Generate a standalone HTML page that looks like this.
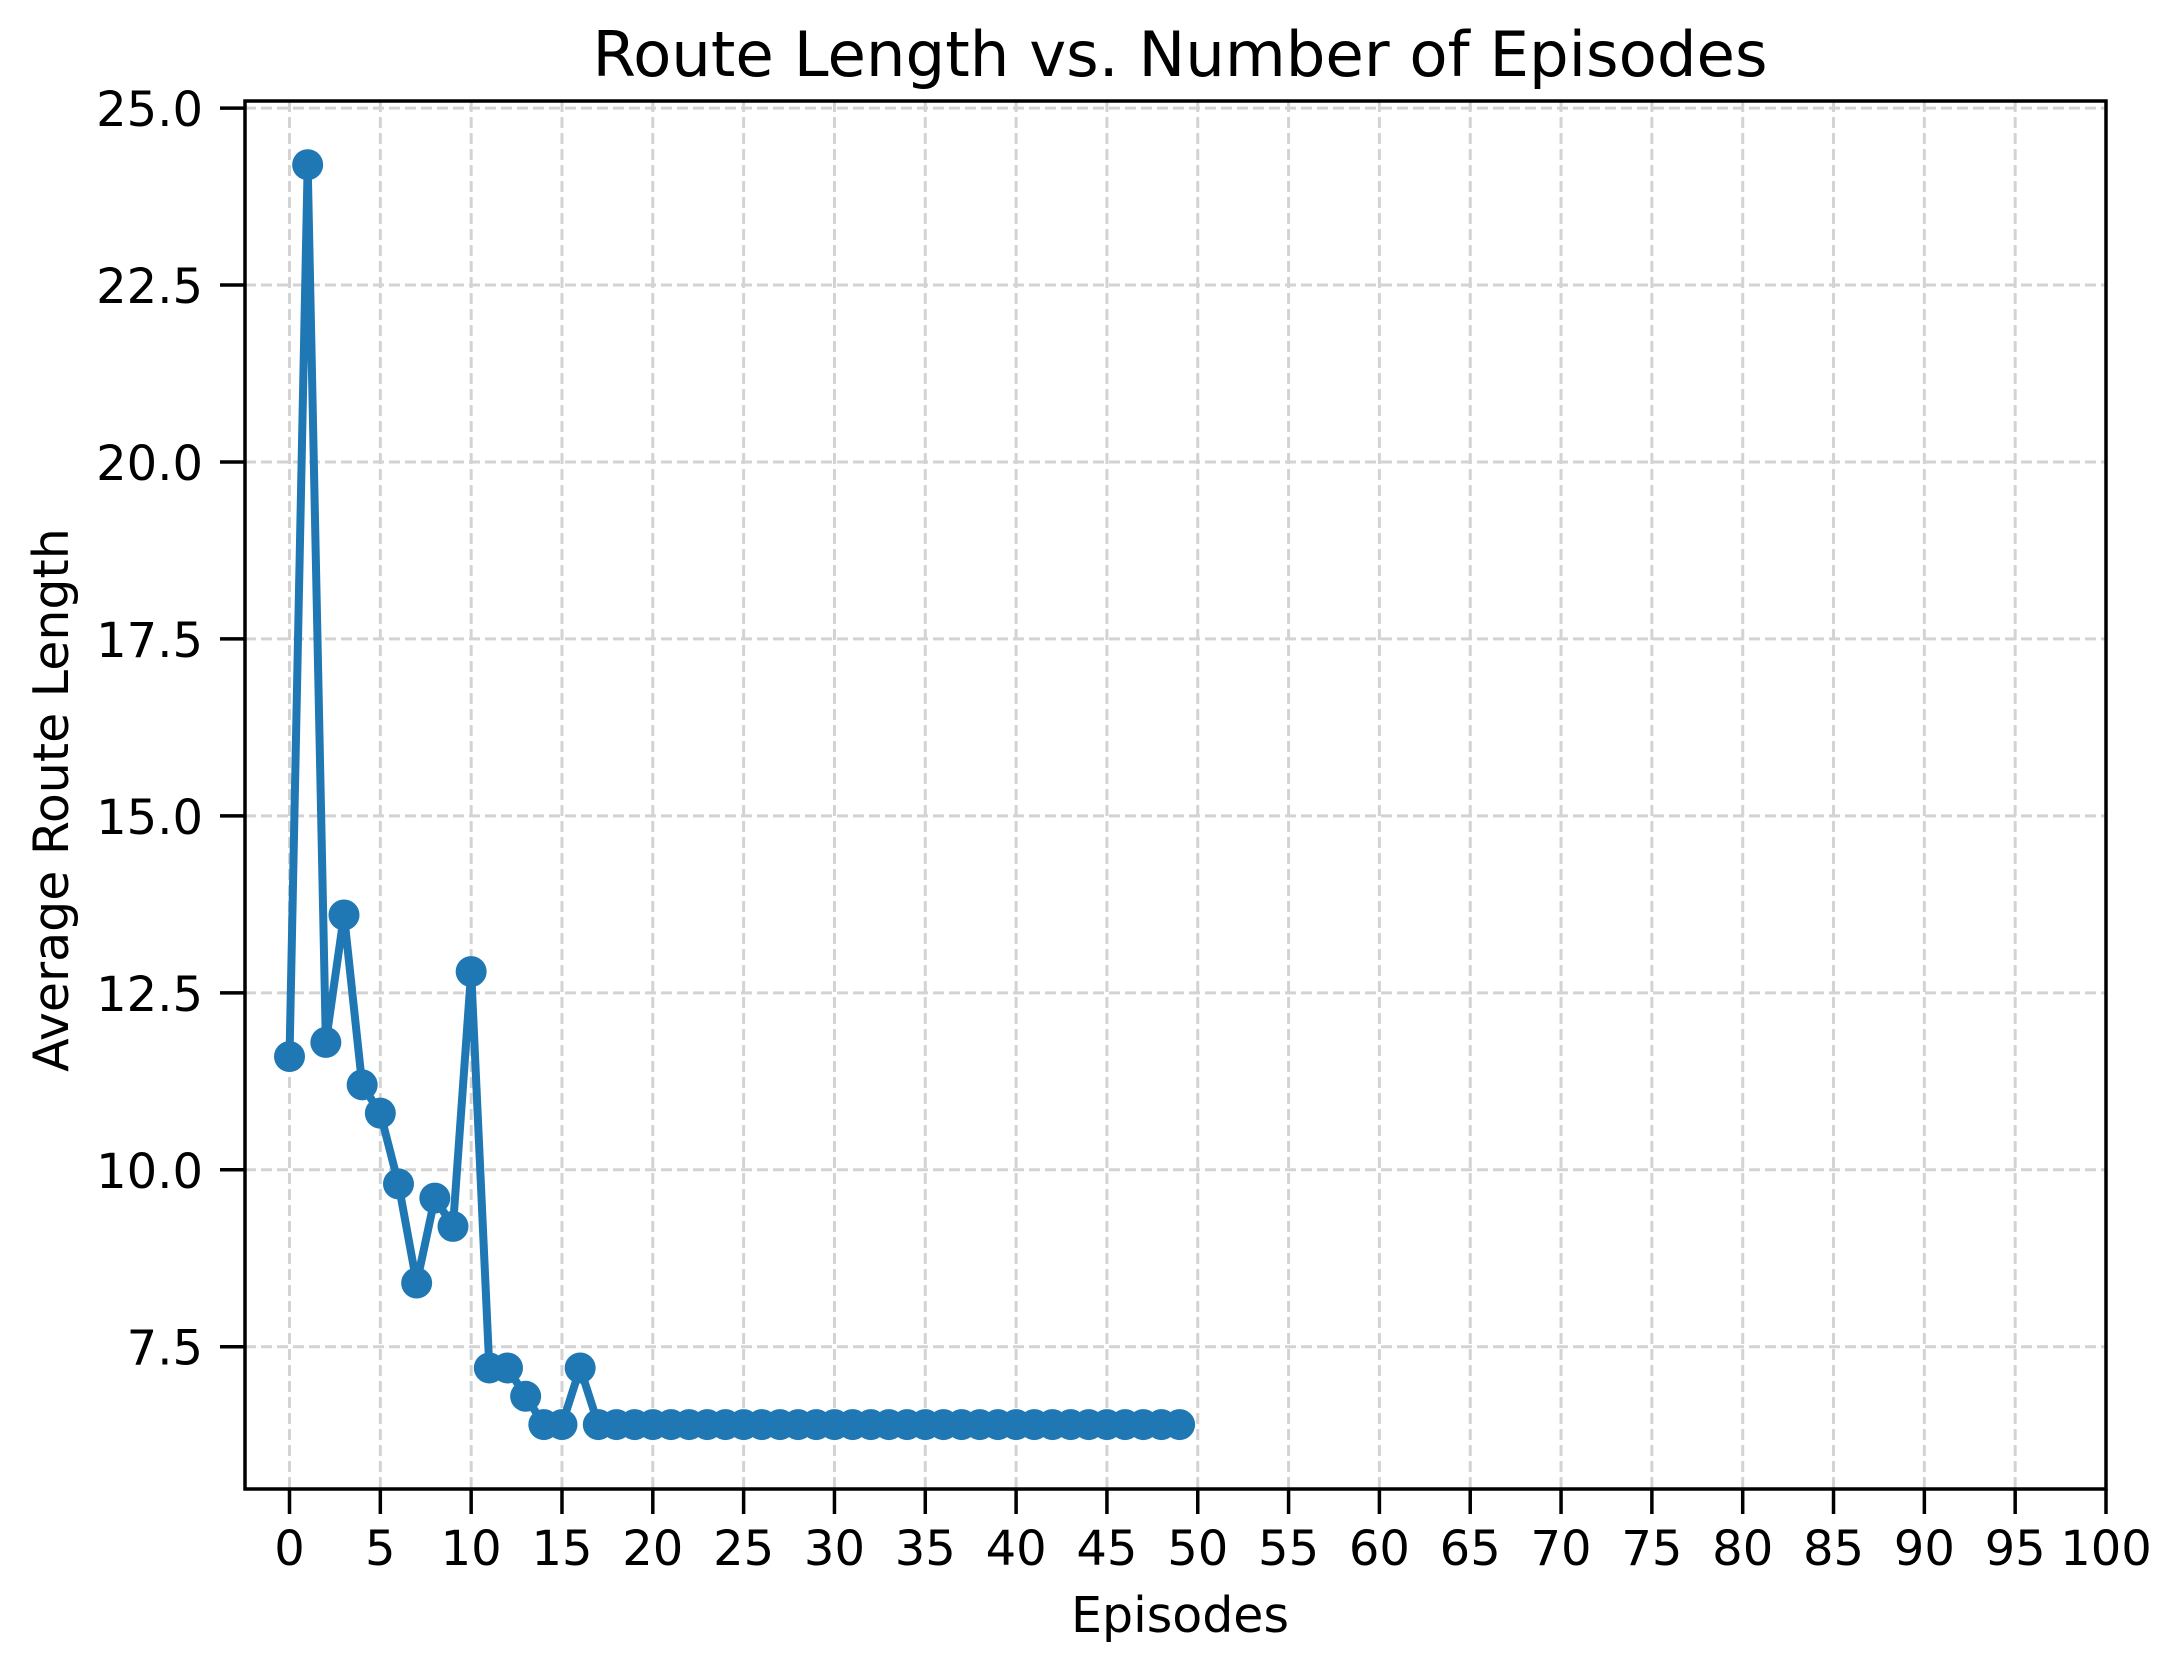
<!DOCTYPE html>
<html><head><meta charset="utf-8"><style>
html,body{margin:0;padding:0;background:#fff;}
svg{display:block;font-family:"DejaVu Sans","Liberation Sans",sans-serif;}
</style></head><body>
<svg id="chart" width="2183" height="1670" viewBox="0 0 2183 1670" xmlns="http://www.w3.org/2000/svg">
<rect width="2183" height="1670" fill="#fff"/>
<g id="grid"></g>
<g id="series"></g>
<rect x="245" y="101" width="1861" height="1388" fill="none" stroke="#000" stroke-width="3.5"/>
<g id="ticks"></g>
<text x="1180" y="76" font-size="62.5" text-anchor="middle">Route Length vs. Number of Episodes</text>
<text x="1180" y="1632" font-size="49" text-anchor="middle">Episodes</text>
<text x="68" y="800" font-size="49" text-anchor="middle" transform="rotate(-90 68 800)">Average Route Length</text>
</svg>
<script>
const episodes = [];
for (let i = 0; i < 50; i++) episodes.push(i);
const routeLengths = [11.6,24.2,11.8,13.6,11.2,10.8,9.8,8.4,9.6,9.2,12.8,7.2,7.2,6.8,6.4,6.4,7.2,6.4,6.4,6.4,6.4,6.4,6.4,6.4,6.4,6.4,6.4,6.4,6.4,6.4,6.4,6.4,6.4,6.4,6.4,6.4,6.4,6.4,6.4,6.4,6.4,6.4,6.4,6.4,6.4,6.4,6.4,6.4,6.4,6.4];
const xTicks = [0,5,10,15,20,25,30,35,40,45,50,55,60,65,70,75,80,85,90,95,100];
const yTicks = [7.5,10.0,12.5,15.0,17.5,20.0,22.5,25.0];
const yTickLabels = ["7.5","10.0","12.5","15.0","17.5","20.0","22.5","25.0"];

const NS = "http://www.w3.org/2000/svg";
const L=245,R=2106,T=101,B=1489;
const xmin=-2.45,xmax=100,ymin=5.49,ymax=25.1;
const xs = v => L + (v-xmin)/(xmax-xmin)*(R-L);
const ys = v => B - (v-ymin)/(ymax-ymin)*(B-T);
function mk(tag, attrs, parent){const e=document.createElementNS(NS,tag);for(const k in attrs)e.setAttribute(k,attrs[k]);parent.appendChild(e);return e;}
const grid=document.getElementById('grid'), ticks=document.getElementById('ticks'), series=document.getElementById('series');
xTicks.forEach(t=>{
  const x=xs(t);
  const g=mk('line',{x1:x,x2:x,y1:T,y2:B,stroke:'#d3d3d3','stroke-width':3,'stroke-dasharray':'11,5'},grid);
  
  
  const tl=mk('line',{x1:x,x2:x,y1:B,y2:B+25,stroke:'#000','stroke-width':3.5},ticks);
  
  
  const tx=mk('text',{x:x,y:1565,'font-size':48,'text-anchor':'middle'},ticks);
  tx.textContent=String(t);
  
  
});
yTicks.forEach((t,i)=>{
  const y=ys(t);
  const g=mk('line',{x1:L,x2:R,y1:y,y2:y,stroke:'#d3d3d3','stroke-width':3,'stroke-dasharray':'11,5'},grid);
  
  
  const tl=mk('line',{x1:L-25,x2:L,y1:y,y2:y,stroke:'#000','stroke-width':3.5},ticks);
  
  
  const tx=mk('text',{x:203,y:y+18,'font-size':48,'text-anchor':'end'},ticks);
  tx.textContent=yTickLabels[i];
  
  
});
const pts=episodes.map((e,i)=>xs(e)+','+ys(routeLengths[i])).join(' ');
const pl=mk('polyline',{points:pts,fill:'none',stroke:'#1f77b4','stroke-width':8,'stroke-linejoin':'round'},series);


episodes.forEach((e,i)=>{
  const c=mk('circle',{cx:xs(e),cy:ys(routeLengths[i]),r:15.5,fill:'#1f77b4'},series);
  
  
});
</script>
</body></html>
